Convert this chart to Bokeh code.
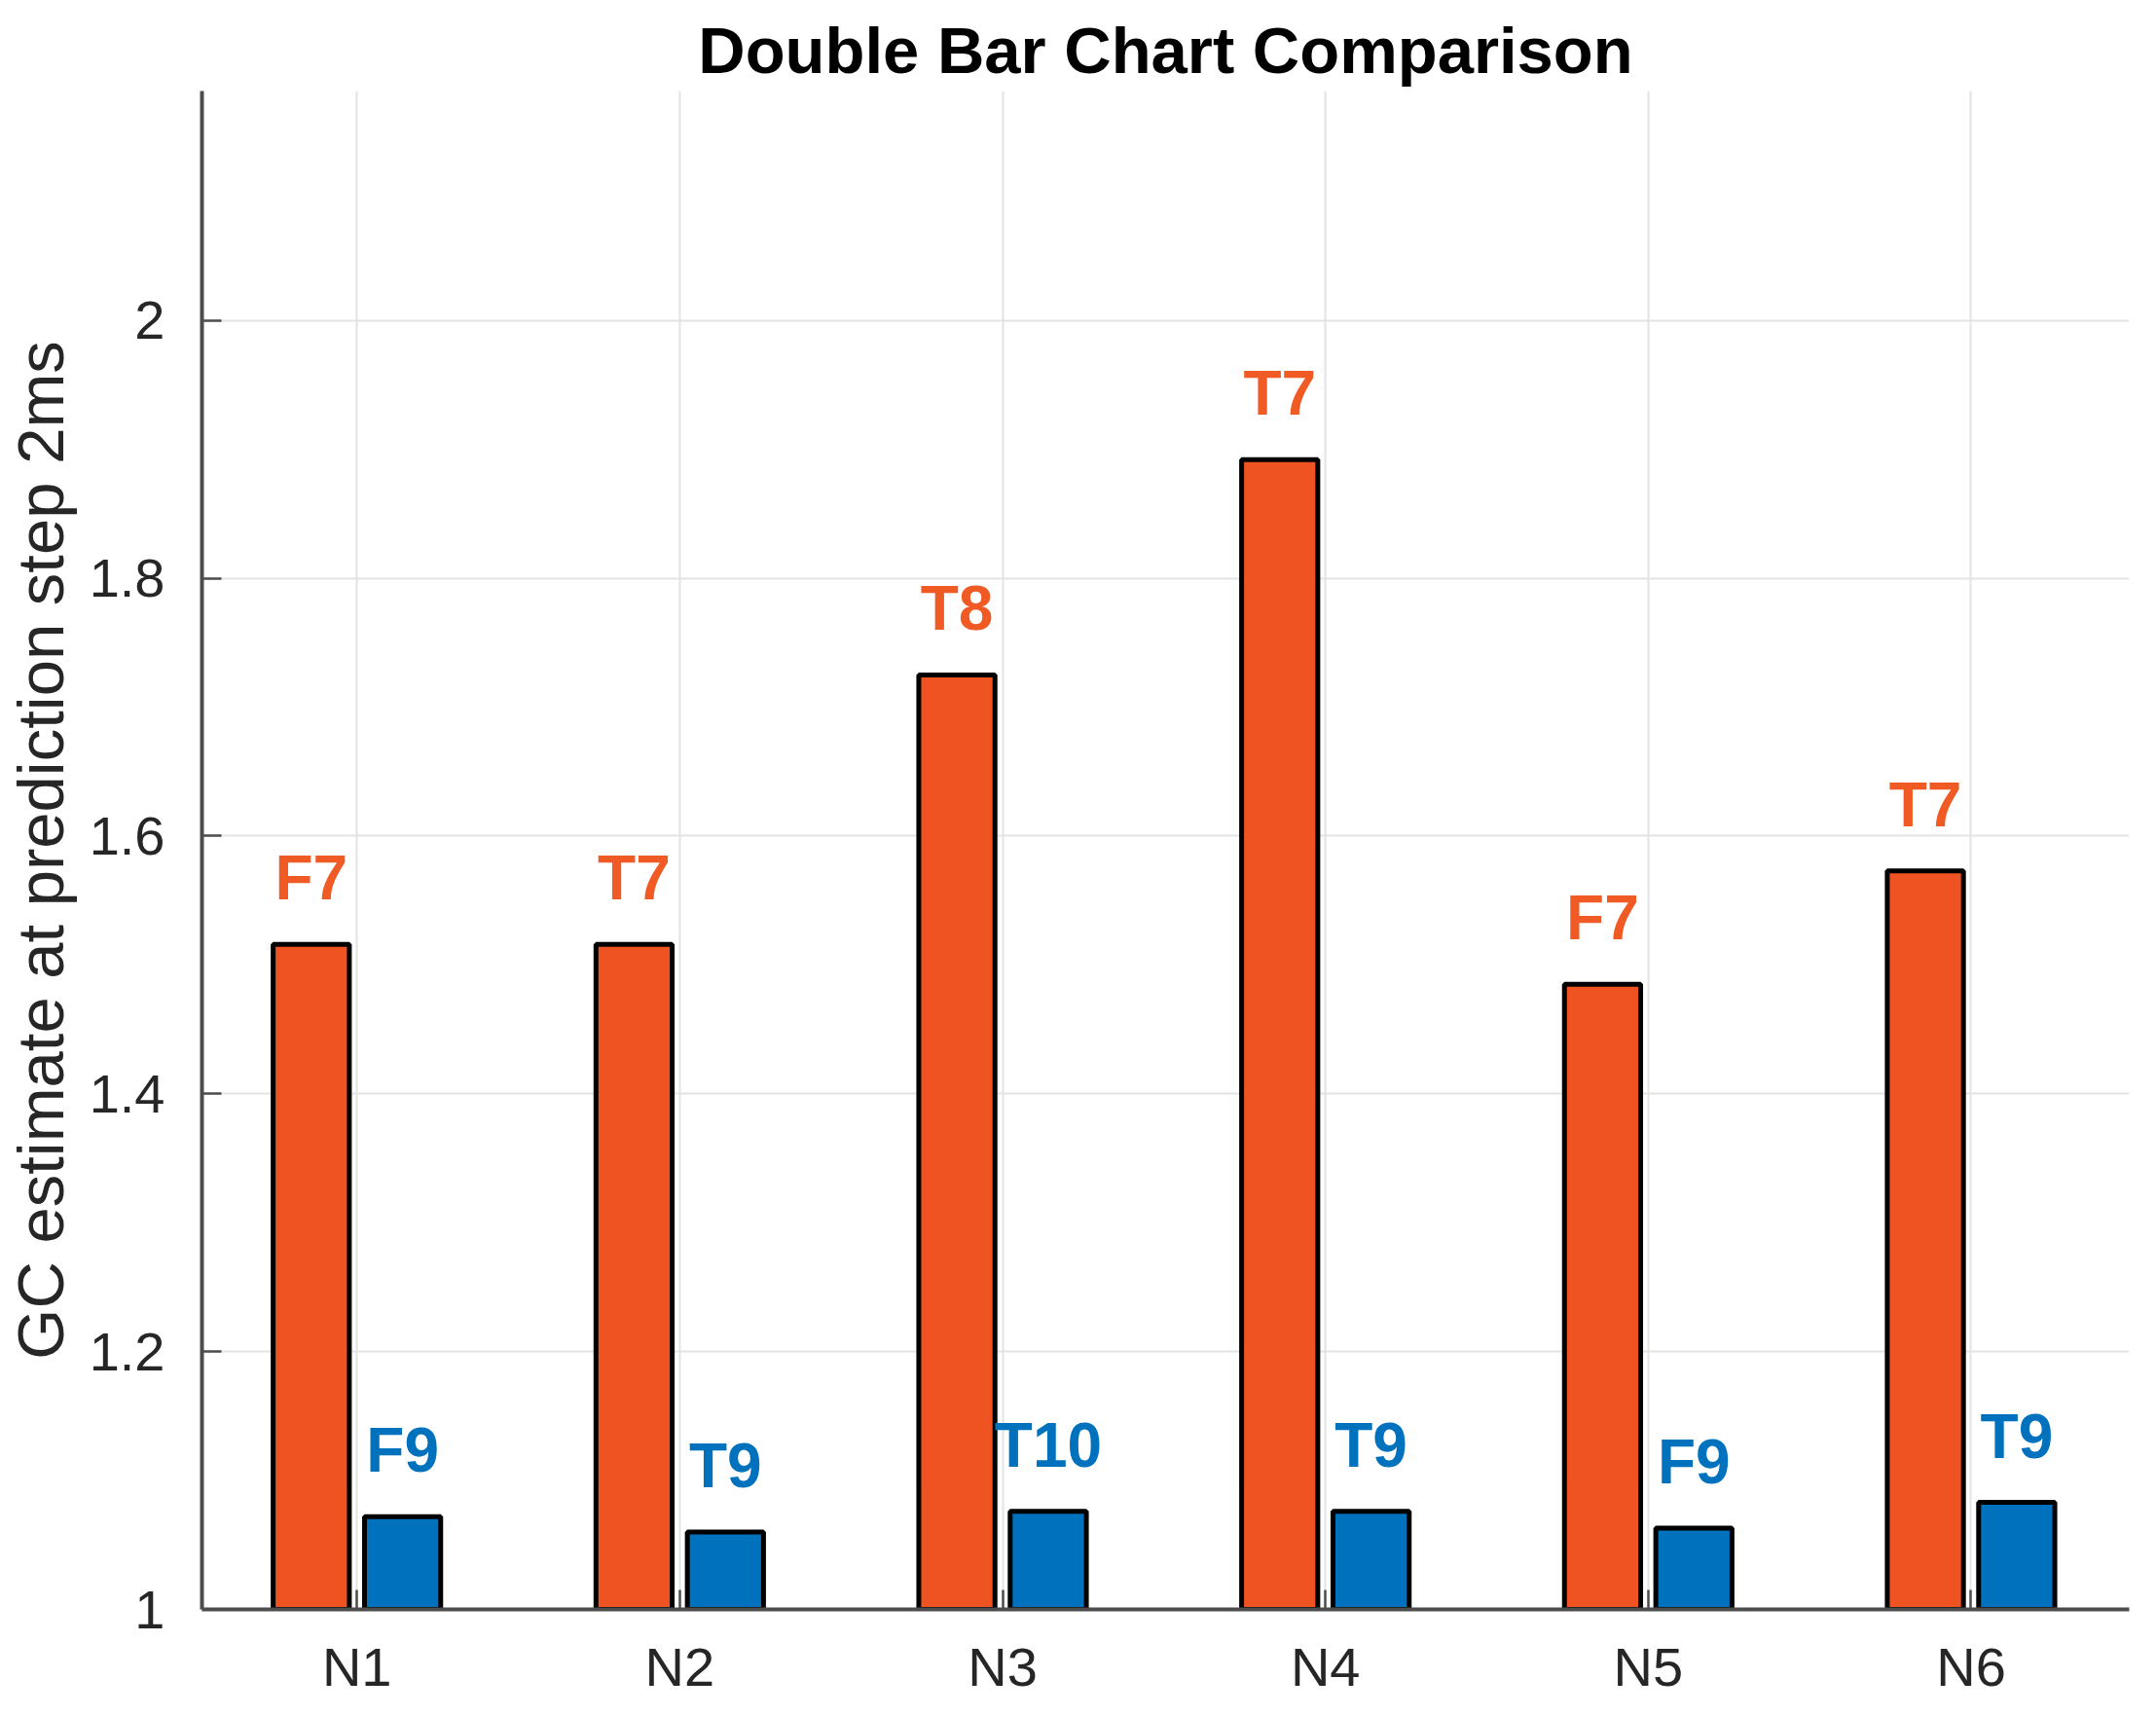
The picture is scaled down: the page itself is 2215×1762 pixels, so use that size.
from bokeh.plotting import figure
from bokeh.models import Range1d, FixedTicker, CustomJSTickFormatter, ColumnDataSource
from bokeh.transform import dodge
from bokeh.core.properties import value
from bokeh.embed import file_html
from bokeh.resources import INLINE

# ---- data ----
categories = ["N1", "N2", "N3", "N4", "N5", "N6"]
series_orange = [1.516, 1.516, 1.725, 1.892, 1.485, 1.573]
series_blue = [1.072, 1.060, 1.076, 1.076, 1.063, 1.083]
labels_orange = ["F7", "T7", "T8", "T7", "F7", "T7"]
labels_blue = ["F9", "T9", "T10", "T9", "F9", "T9"]
y_ticks = [1, 1.2, 1.4, 1.6, 1.8, 2]

ORANGE = "#EF5322"
ORANGE_TXT = "#F05A24"
BLUE = "#0072BD"
AXIS = "#4D4D4D"
TXT = "#262626"
SANS = "'Liberation Sans', Arial, sans-serif"

xpos = list(range(1, len(categories) + 1))
src = ColumnDataSource(dict(x=xpos, a=series_orange, b=series_blue,
                            la=labels_orange, lb=labels_blue))

p = figure(width=2199, height=1746, output_backend="svg", toolbar_location=None,
           x_range=Range1d(0.52, 6.49), y_range=Range1d(1, 2.178),
           title="Double Bar Chart Comparison",
           min_border_left=199, min_border_right=12,
           min_border_top=93, min_border_bottom=86)
p.outline_line_color = None
p.background_fill_color = "white"
p.border_fill_color = "white"

off = 0.1415
bw = 0.236
p.vbar(x=dodge("x", -off, range=p.x_range), top="a", bottom=1, width=bw, source=src,
       fill_color=ORANGE, line_color="black", line_width=5)
p.vbar(x=dodge("x", off, range=p.x_range), top="b", bottom=1, width=bw, source=src,
       fill_color=BLUE, line_color="black", line_width=5)

p.text(x=dodge("x", -off, range=p.x_range), y="a", text="la", source=src,
       text_align="center", text_baseline="alphabetic", y_offset=-68,
       text_font=value(SANS), text_font_size="64px", text_font_style="bold",
       text_color=ORANGE_TXT)
p.text(x=dodge("x", off, range=p.x_range), y="b", text="lb", source=src,
       text_align="center", text_baseline="alphabetic", y_offset=-68,
       text_font=value(SANS), text_font_size="64px", text_font_style="bold",
       text_color=BLUE)

# title
p.title.text_font = SANS
p.title.text_font_size = "67px"
p.title.text_font_style = "bold"
p.title.text_color = "black"
p.title.align = "center"
p.title.standoff = 10

# axes
xt = FixedTicker(ticks=xpos)
p.xaxis.ticker = xt
p.xgrid.ticker = xt
p.xaxis.major_label_overrides = {x: c for x, c in zip(xpos, categories)}
yt = FixedTicker(ticks=y_ticks)
p.yaxis.ticker = yt
p.ygrid.ticker = yt
p.yaxis.formatter = CustomJSTickFormatter(code="return Number(tick.toFixed(1)).toString();")

for ax in (p.xaxis, p.yaxis):
    ax.axis_line_color = AXIS
    ax.axis_line_width = 4
    ax.major_tick_in = 20
    ax.major_tick_out = 0
    ax.major_tick_line_color = AXIS
    ax.major_tick_line_width = 2.5
    ax.minor_tick_line_color = None
    ax.major_label_text_font = SANS
    ax.major_label_text_font_size = "56px"
    ax.major_label_text_color = TXT

p.xaxis.major_label_standoff = 27
p.yaxis.major_label_standoff = 38
p.yaxis.axis_label = "GC estimate at prediction step 2ms"
p.yaxis.axis_label_text_font = SANS
p.yaxis.axis_label_text_font_size = "67px"
p.yaxis.axis_label_text_font_style = "normal"
p.yaxis.axis_label_text_color = TXT
p.yaxis.axis_label_standoff = 10

p.xgrid.grid_line_color = "#E3E3E3"
p.xgrid.grid_line_width = 2
p.ygrid.grid_line_color = "#E3E3E3"
p.ygrid.grid_line_width = 2

open("out.html", "w").write(file_html(p, INLINE))
